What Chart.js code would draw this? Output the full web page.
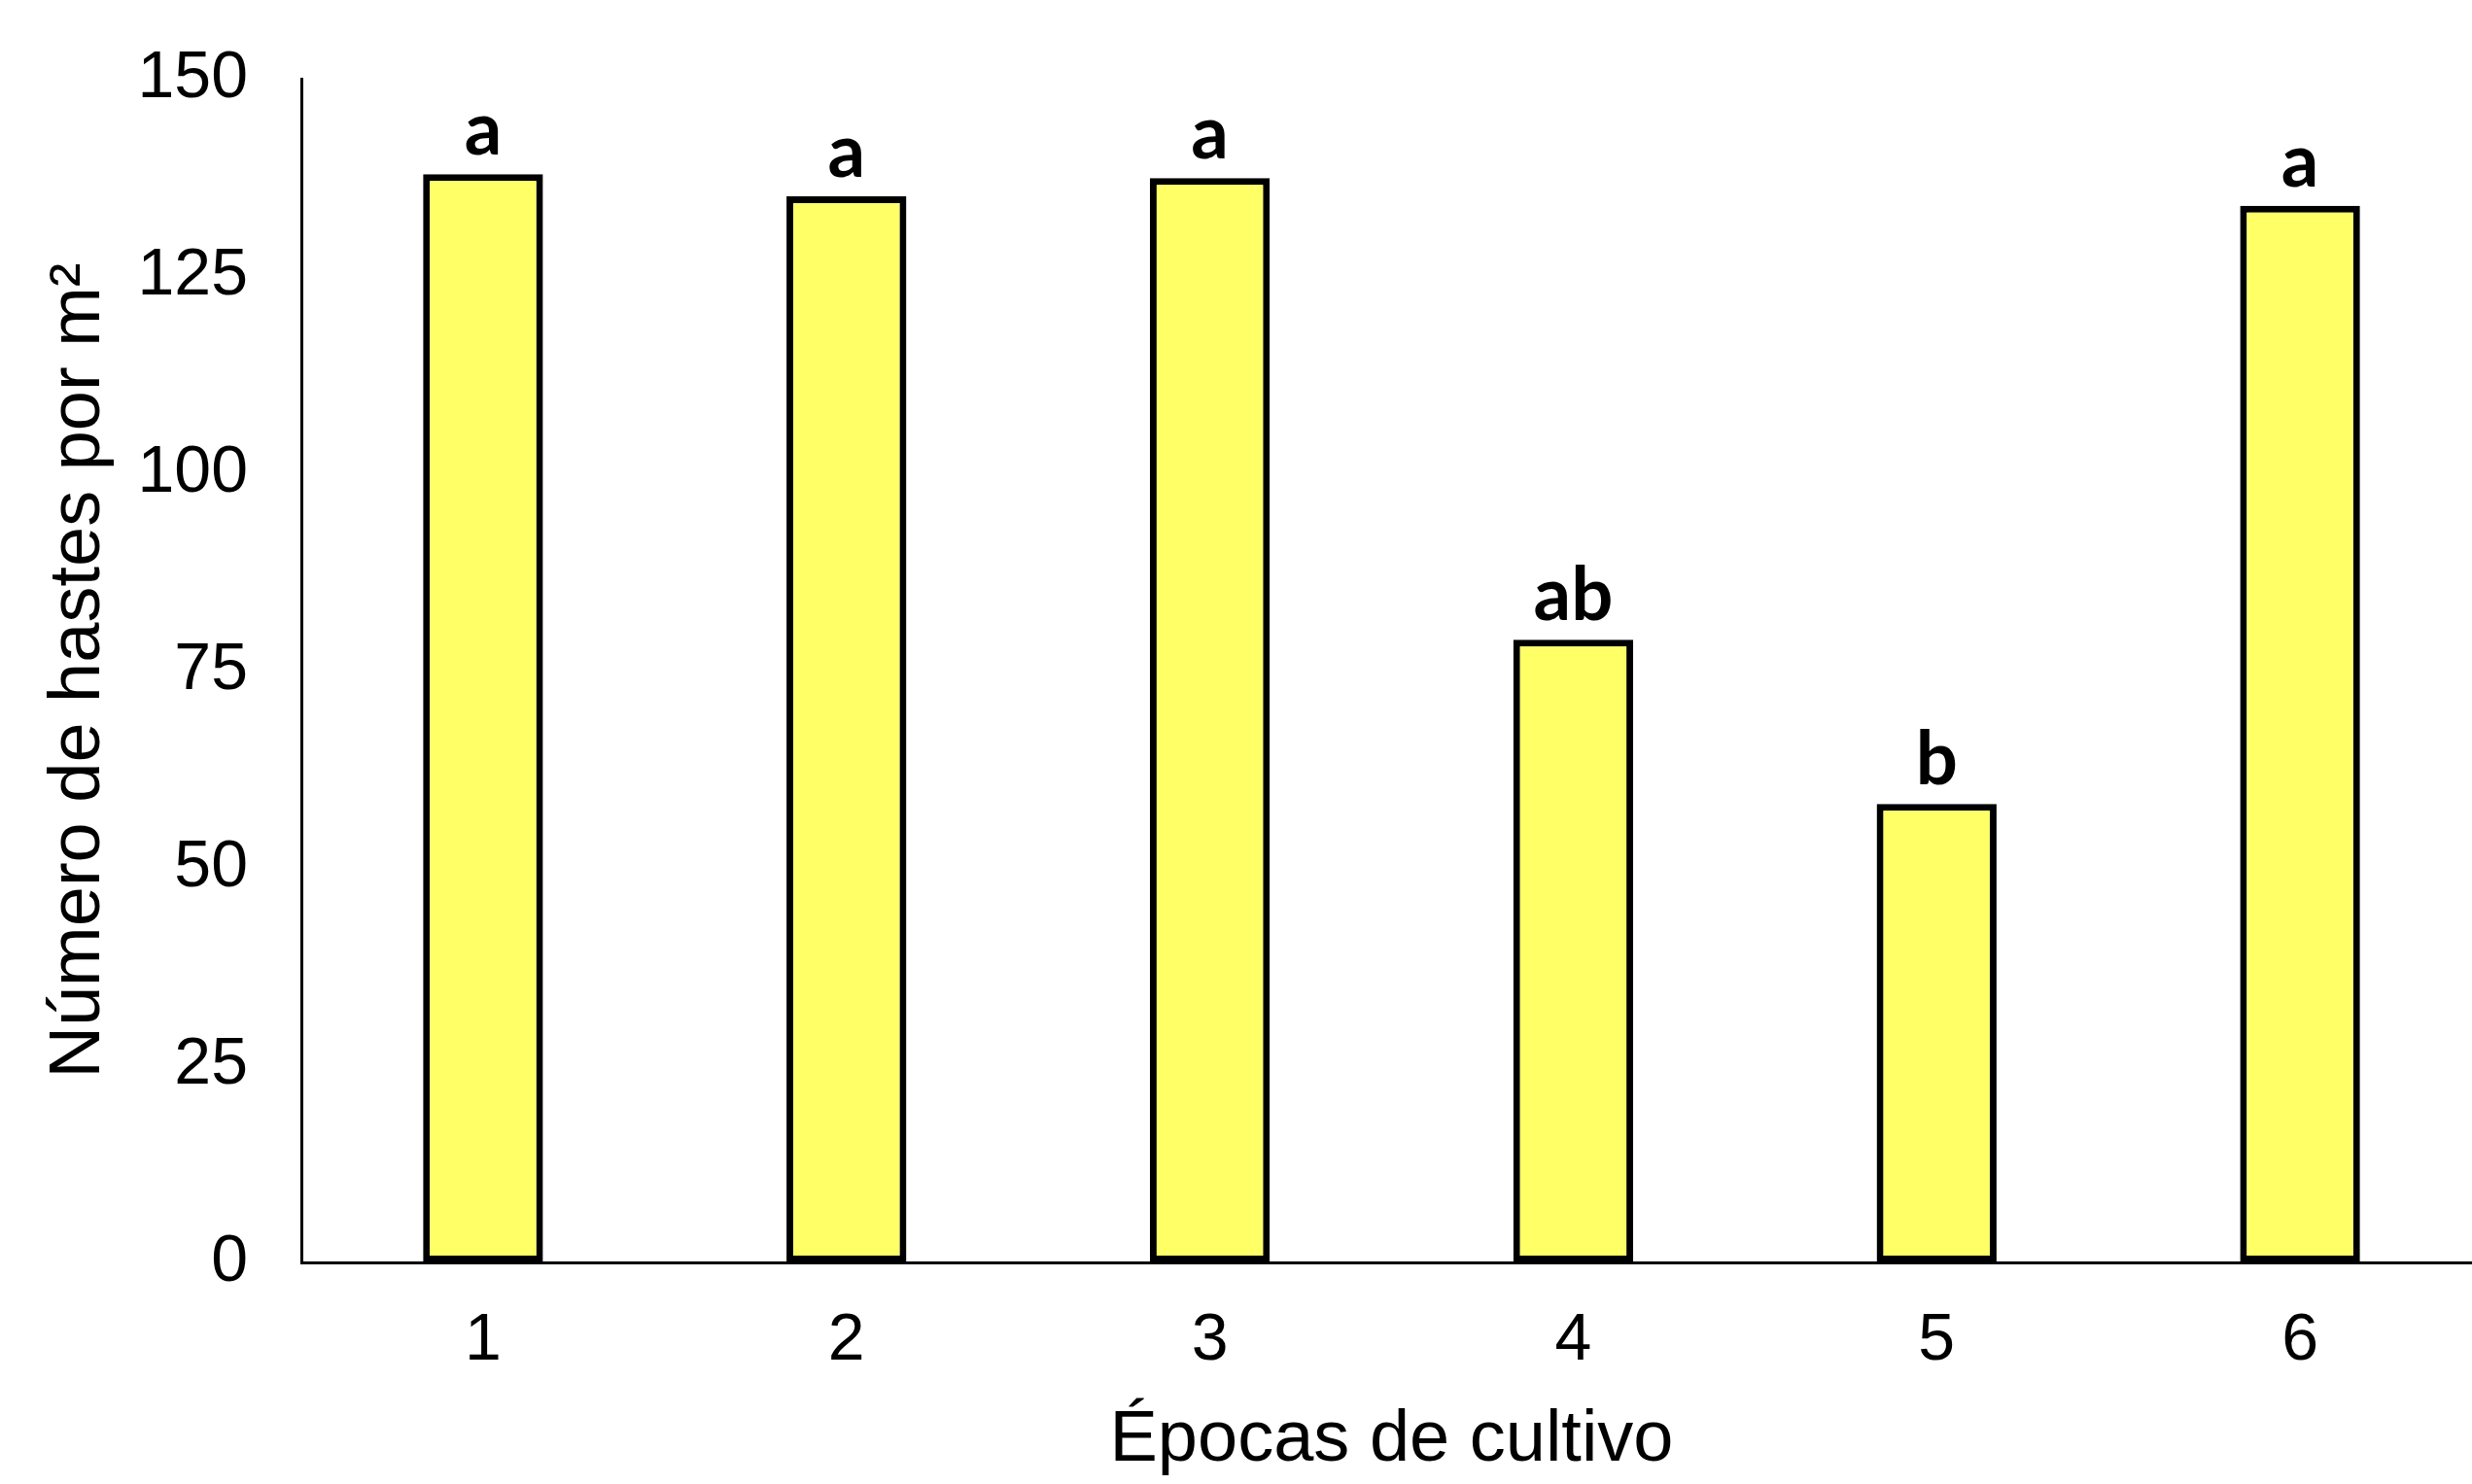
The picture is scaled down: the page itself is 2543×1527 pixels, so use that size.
<!DOCTYPE html>
<html>
<head>
<meta charset="utf-8">
<script src="https://cdn.jsdelivr.net/npm/chart.js@4"></script>
<style>
  html, body { margin: 0; padding: 0; background: #fff; overflow: hidden; }
  #wrap { width: 2560px; height: 1527px; }
</style>
</head>
<body>
<div id="wrap"><canvas id="hastesChart" width="2560" height="1527"></canvas></div>
<script>
// data
const epocas = ['1', '2', '3', '4', '5', '6'];
const hastes = [137.9, 135.1, 137.4, 78.9, 58.1, 133.9];
const letras = ['a', 'a', 'a', 'ab', 'b', 'a'];
const yMin = 0, yMax = 150, yStep = 25;

// letters of the mean comparison test above each bar
const letrasPlugin = {
    id: 'letras',
    afterDatasetsDraw(chart) {
        const ctx = chart.ctx;
        const meta = chart.getDatasetMeta(0);
        ctx.save();
        ctx.font = 'bold 76px Lato';
        ctx.fillStyle = '#000';
        ctx.textAlign = 'center';
        ctx.textBaseline = 'alphabetic';
        meta.data.forEach((bar, i) => {
            ctx.fillText(letras[i], bar.x, bar.y - 20);
        });
        ctx.restore();
    }
};

const ctx = document.getElementById('hastesChart').getContext('2d');
const hastesChart = new Chart(ctx, {
    type: 'bar',
    data: {
        labels: epocas,
        datasets: [{
            data: hastes,
            backgroundColor: '#FFFF66',
            borderColor: '#000',
            borderWidth: 7,
            borderSkipped: false,
            categoryPercentage: 1,
            barPercentage: 0.33
        }]
    },
    options: {
        responsive: false,
        animation: false,
        devicePixelRatio: 1,
        layout: { padding: { top: 81, right: 7, left: 0, bottom: 0 } },
        plugins: {
            legend: { display: false },
            tooltip: { enabled: false }
        },
        scales: {
            x: {
                grid: { display: false, drawTicks: false },
                border: { display: true, color: '#000', width: 3 },
                ticks: { color: '#000', padding: 40, font: { family: 'Liberation Sans', size: 68 } },
                title: {
                    display: true,
                    text: 'Épocas de cultivo',
                    color: '#000',
                    font: { family: 'Liberation Sans', size: 74 },
                    padding: { top: 0, bottom: 0 }
                },
                afterFit: (scale) => { scale.height = 228; }
            },
            y: {
                min: yMin,
                max: yMax,
                grid: { display: false, drawTicks: false },
                border: { display: true, color: '#000', width: 3 },
                ticks: { stepSize: yStep, color: '#000', padding: 55, font: { family: 'Liberation Sans', size: 68 } },
                title: {
                    display: true,
                    text: 'Número de hastes por m²',
                    color: '#000',
                    font: { family: 'Liberation Sans', size: 74 },
                    padding: { top: 37, bottom: 0 }
                },
                afterFit: (scale) => {
                    scale.width = 310;
                    scale.paddingTop = 0;  // let the layout padding alone set the top
                }
            }
        }
    },
    plugins: [letrasPlugin]
});
</script>
</body>
</html>
